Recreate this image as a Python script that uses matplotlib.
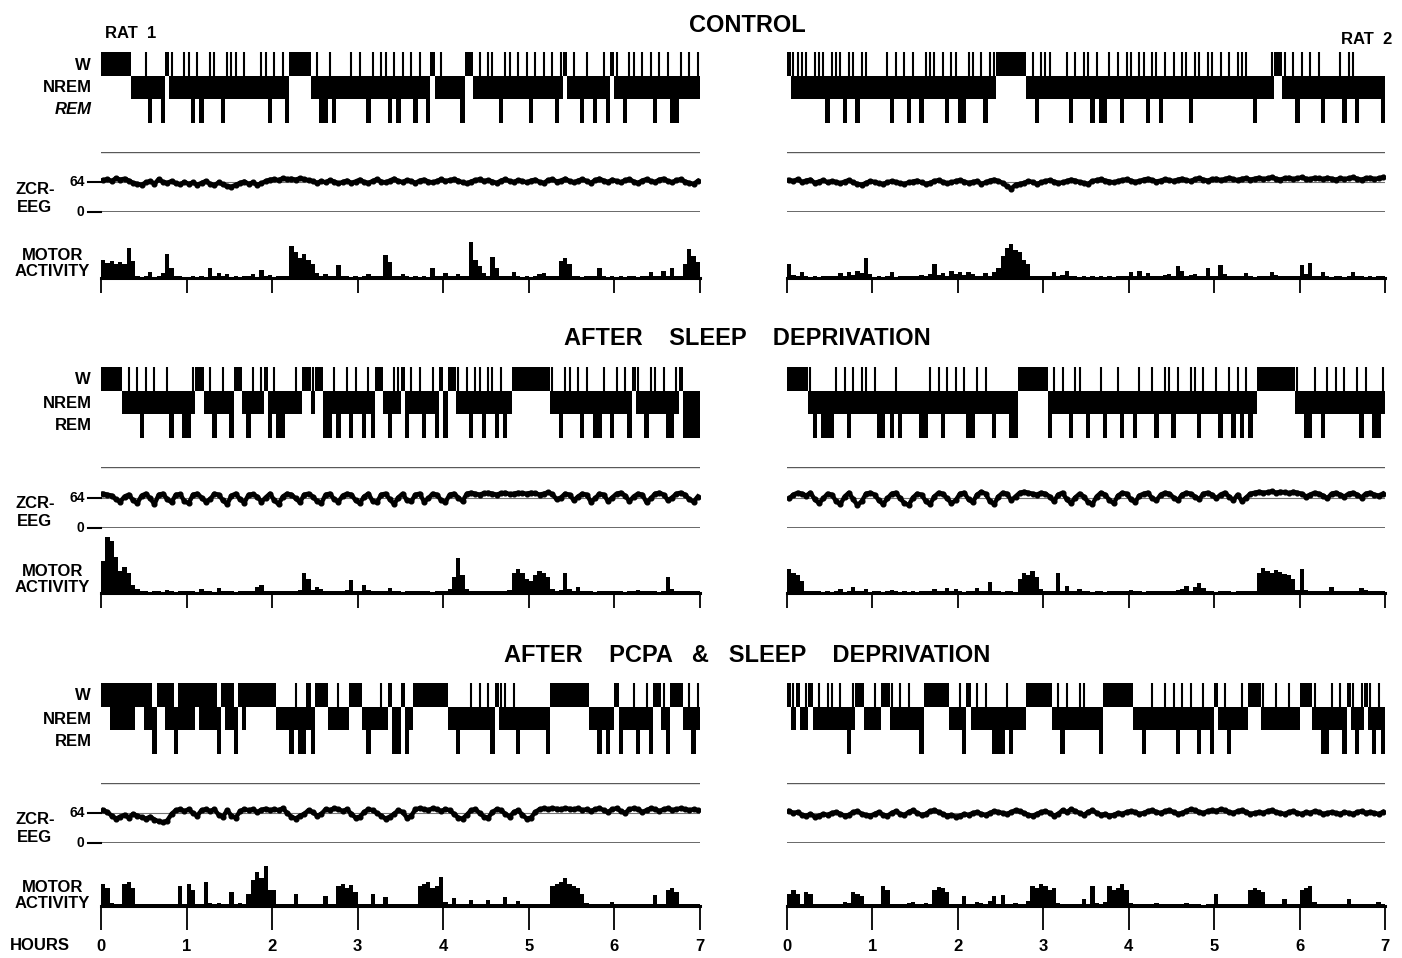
import matplotlib.pyplot as plt
import numpy as np

plt.rcParams['font.family'] = ['Liberation Sans', 'DejaVu Sans']
plt.rcParams['font.weight'] = 'bold'

W_PX, H_PX = 1402, 958
BIN_H = 0.05                       # one bin = 3 min
HOURS = [0, 1, 2, 3, 4, 5, 6, 7]
SECTION_TITLES = ["CONTROL", "AFTER    SLEEP    DEPRIVATION", "AFTER    PCPA   &   SLEEP    DEPRIVATION"]
RAT_LABELS = ["RAT  1", "RAT  2"]

# stages per 3-min bin: W wake, N nrem, a nrem + short arousal, R rem, F fragmented wake/nrem
HYP_C1 = ("WWWWWWWNNN" "aRNNRWaNNa" "aRaRNaaNRa" "aaNaNNNaaR" "aNaRWWWWWN" "aRRaRNNNaN" "aNRaNaaRaR"
          "aNaRaNRWNa" "NNNNRWWNaN" "aaNRaaNaNa" "RaNaNaRaWN" "aNRaNRNaRW" "aNRaaNaNaR" "aNaRRaNaNa")
HYP_C2 = ("WaaaaNaaaR" "aaaRaaRaaN" "NNNaRaNaRa" "NRaaaNaRaa" "RRaaNaRaaW" "WWWWWWNaRa" "aaNNNaRaNa"
          "aRaRRaNaRa" "aNaaRaaRaN" "aNaaRaaNaa" "NaNaNaaaNR" "NNNaWWaNaR" "aNaNaRNNNa" "RaaRNNNNNR")
HYP_S1 = ("WWWWWNaNaR" "aNaNNaRNNR" "RaWWNaRNaN" "RWWNRaNaWR" "aRRNNaNWWa" "WWRRaRNaRa" "NRaRWWNRaa"
          "WRaNaRNaRW" "RWWaNaRaaR" "aaRaRNWWWW" "WWWWWaNRaa" "NaRaNRRaNR" "aNaRWaNRaa" "NaRRaWRRRR")
HYP_S2 = ("WWWWWaRNRR" "RaNaRaNaaN" "aRRNRaRNNN" "NRRaNaRaNa" "NaRRaNaNRN" "NNRRWWWWWW" "WRaNaNRaaN"
          "RNNaRNNaRN" "NRaNNaRNaa" "RaNNaaRaNN" "aRNaRaRaRN" "WWWWWWWWWa" "NRRaNRaNaN" "aNNaRaNRRa")
HYP_P1 = ("WWFFFFFFWW" "FFRWWFFRFF" "FFWFFFFRWF" "FRWFWWWWWW" "WNNNRaRRFR" "WWWNNaNNWW" "WNRNNaNWRR"
          "WRNWWWWWWW" "WNNRNNaNaN" "aRWaaNaRNN" "NNNNRWWWWW" "WWWWNNRNRN" "WRNNaRNaRW" "WaRWWWNaRa")
HYP_P2 = ("WaWNaWNaNa" "aNaNRaWWNN" "aNWWaNaNaN" "NRWWWWWWNN" "aRWNaNaNRR" "RaRNNNWWWW" "WWNaRaNNaa"
          "NNNRWWWWWW" "WNNRNaNNaN" "aRaNaNRaNR" "WNaRNNaNWW" "WaNNaNNaNN" "WWWaNRRaNa" "RWaRaWaRaR")

# zero-crossing rate of the EEG, per 3-min bin
EEG_C1 = [68, 70, 66, 72, 69, 71, 67, 62, 60, 58, 63, 66, 60, 70, 64, 62, 66, 61, 59, 64,
          60, 63, 58, 62, 66, 60, 57, 63, 59, 55, 54, 58, 62, 65, 60, 63, 58, 61, 66, 69,
          70, 68, 72, 70, 71, 69, 72, 70, 68, 66, 62, 66, 63, 68, 65, 61, 64, 67, 62, 65,
          69, 64, 62, 66, 70, 65, 63, 67, 71, 66, 64, 68, 66, 62, 67, 69, 65, 63, 66, 70,
          66, 68, 70, 67, 63, 61, 65, 68, 70, 66, 68, 65, 62, 67, 70, 66, 64, 68, 66, 63,
          67, 69, 64, 62, 68, 70, 65, 67, 71, 66, 63, 67, 70, 66, 62, 68, 71, 67, 64, 69,
          66, 63, 68, 70, 65, 62, 67, 70, 66, 64, 69, 71, 66, 63, 68, 70, 65, 62, 60, 66]
EEG_C2 = [68, 66, 70, 64, 67, 69, 62, 65, 68, 63, 66, 64, 61, 65, 68, 63, 60, 58, 62, 66,
          64, 61, 60, 63, 66, 64, 61, 60, 63, 65, 67, 63, 60, 62, 66, 68, 64, 61, 63, 66,
          68, 65, 62, 64, 66, 60, 63, 67, 69, 66, 62, 55, 50, 58, 60, 62, 66, 64, 60, 63,
          66, 68, 65, 62, 63, 66, 69, 67, 64, 62, 60, 66, 68, 70, 67, 65, 63, 66, 68, 70,
          67, 64, 66, 69, 71, 68, 65, 67, 70, 68, 66, 69, 71, 68, 66, 70, 72, 69, 67, 70,
          71, 68, 70, 73, 70, 68, 71, 72, 69, 71, 73, 70, 72, 74, 71, 69, 72, 73, 70, 72,
          74, 71, 70, 73, 72, 70, 73, 71, 69, 72, 70, 72, 74, 71, 69, 72, 73, 70, 72, 74]
EEG_S1 = [72, 70, 68, 60, 55, 66, 70, 58, 52, 68, 72, 62, 50, 70, 72, 60, 54, 70, 71, 56,
          52, 70, 72, 64, 55, 60, 72, 70, 58, 50, 68, 72, 60, 53, 70, 71, 66, 55, 64, 72,
          58, 50, 66, 72, 70, 62, 54, 70, 72, 66, 56, 52, 70, 72, 60, 55, 68, 72, 70, 58,
          52, 66, 72, 56, 54, 70, 72, 60, 50, 64, 72, 58, 56, 70, 72, 55, 62, 72, 70, 58,
          54, 70, 72, 64, 56, 72, 74, 72, 70, 73, 74, 72, 70, 73, 74, 71, 72, 74, 73, 72,
          74, 73, 70, 72, 75, 71, 60, 64, 72, 70, 58, 66, 72, 70, 55, 62, 72, 70, 56, 64,
          72, 74, 68, 56, 66, 72, 70, 54, 62, 72, 74, 70, 58, 64, 72, 74, 70, 60, 55, 66]
EEG_S2 = [62, 70, 74, 72, 68, 74, 60, 52, 62, 72, 70, 56, 50, 66, 74, 60, 48, 56, 72, 74,
          70, 58, 50, 62, 72, 74, 62, 52, 48, 64, 72, 70, 56, 50, 66, 74, 72, 62, 52, 58,
          72, 74, 60, 54, 70, 76, 72, 56, 50, 66, 74, 72, 58, 66, 74, 76, 74, 72, 70, 74,
          72, 66, 56, 70, 74, 60, 52, 64, 72, 66, 54, 50, 66, 74, 70, 58, 52, 68, 74, 72,
          60, 54, 68, 72, 74, 62, 58, 70, 74, 72, 64, 58, 70, 74, 72, 66, 60, 72, 74, 70,
          62, 70, 74, 66, 58, 70, 56, 64, 72, 74, 76, 74, 75, 77, 74, 76, 75, 73, 76, 74,
          72, 66, 70, 74, 72, 68, 62, 72, 74, 70, 66, 72, 74, 70, 64, 72, 74, 70, 68, 72]
EEG_P1 = [70, 66, 58, 52, 56, 60, 54, 62, 58, 55, 52, 56, 50, 46, 44, 48, 62, 70, 72, 68,
          72, 64, 58, 70, 72, 68, 72, 60, 56, 70, 58, 54, 68, 72, 70, 72, 66, 71, 73, 70,
          72, 70, 74, 64, 56, 52, 58, 62, 70, 66, 58, 62, 72, 70, 74, 72, 68, 72, 62, 54,
          56, 66, 72, 70, 64, 58, 52, 56, 62, 70, 66, 54, 58, 72, 74, 72, 70, 74, 72, 68,
          72, 70, 62, 54, 52, 60, 70, 72, 64, 56, 54, 66, 72, 70, 62, 56, 66, 70, 60, 52,
          54, 66, 72, 74, 72, 74, 73, 72, 74, 73, 72, 74, 70, 72, 68, 72, 74, 70, 66, 72,
          74, 68, 64, 72, 74, 72, 66, 70, 74, 72, 68, 72, 74, 70, 72, 74, 72, 70, 72, 70]
EEG_P2 = [68, 64, 66, 60, 58, 62, 56, 58, 62, 60, 64, 66, 62, 58, 60, 66, 68, 62, 60, 58,
          62, 66, 60, 58, 64, 68, 62, 60, 66, 70, 64, 60, 62, 68, 70, 66, 62, 58, 60, 56,
          58, 62, 60, 64, 66, 62, 60, 64, 68, 66, 64, 62, 66, 70, 68, 64, 60, 58, 62, 66,
          68, 64, 58, 62, 70, 66, 72, 68, 64, 60, 66, 70, 64, 60, 62, 58, 60, 64, 62, 66,
          68, 66, 62, 64, 68, 70, 66, 64, 68, 70, 66, 62, 64, 68, 72, 70, 66, 64, 68, 70,
          68, 72, 70, 66, 64, 68, 70, 66, 62, 64, 66, 64, 68, 70, 66, 64, 62, 66, 68, 64,
          62, 66, 64, 68, 66, 62, 64, 66, 64, 62, 66, 64, 62, 66, 68, 64, 66, 64, 62, 66]

# motor activity counts, per 3-min bin
MOT_C1 = [4.5, 3.8, 4.2, 3.5, 4.0, 3.6, 7.5, 4.2, 0.4, 0.3, 0.4, 1.4, 0.3, 0.4, 1.2, 6.0, 2.5, 0.5, 0.4, 0.3,
          0.3, 0.4, 0.3, 0.4, 0.3, 2.6, 0.5, 1.2, 0.4, 1.0, 0.3, 0.4, 0.3, 0.4, 0.4, 1.0, 0.3, 2.0, 0.4, 0.8,
          0.3, 0.4, 0.5, 0.6, 8.0, 6.5, 5.0, 6.0, 4.5, 3.5, 1.2, 0.6, 1.0, 0.4, 0.5, 3.3, 0.4, 0.5, 0.3, 0.4,
          0.3, 0.4, 0.9, 0.5, 0.4, 0.4, 5.7, 4.0, 0.6, 0.5, 0.9, 0.5, 0.3, 0.4, 0.3, 0.4, 0.3, 2.6, 0.4, 0.5,
          1.2, 0.4, 0.4, 1.0, 0.4, 0.5, 9.0, 4.5, 3.0, 1.2, 0.5, 5.2, 2.5, 0.4, 0.5, 0.4, 1.4, 0.4, 0.3, 0.4,
          0.3, 0.4, 1.0, 1.2, 0.4, 0.5, 0.6, 4.2, 5.0, 3.5, 0.5, 0.4, 0.3, 0.4, 0.5, 0.4, 2.6, 0.4, 0.3, 0.4,
          0.3, 0.4, 0.3, 0.5, 0.4, 0.3, 0.4, 0.5, 1.4, 0.4, 0.5, 1.8, 0.4, 2.5, 0.6, 0.5, 3.5, 7.2, 5.5, 4.0]
MOT_C2 = [3.5, 0.8, 0.5, 1.4, 0.4, 0.3, 0.4, 0.3, 0.4, 0.5, 0.4, 0.5, 1.2, 0.6, 1.5, 0.8, 1.8, 1.2, 5.0, 1.0,
          0.3, 0.4, 0.3, 0.4, 1.4, 0.3, 0.5, 0.4, 0.6, 0.4, 0.5, 0.8, 0.4, 1.0, 3.5, 0.8, 1.2, 0.6, 1.8, 1.0,
          1.5, 0.8, 1.6, 1.0, 0.4, 0.6, 1.2, 0.5, 1.4, 2.5, 5.5, 7.5, 8.5, 7.0, 6.5, 4.5, 3.5, 0.6, 0.4, 0.5,
          0.4, 0.6, 1.5, 0.5, 0.8, 1.8, 0.5, 0.4, 0.3, 0.4, 0.3, 0.4, 0.3, 0.4, 0.3, 0.4, 0.3, 0.4, 0.5, 0.4,
          1.6, 0.5, 1.8, 0.6, 1.2, 0.5, 0.4, 0.6, 0.8, 1.0, 0.6, 3.0, 1.8, 0.5, 0.8, 1.0, 0.6, 0.5, 2.5, 0.4,
          0.6, 3.2, 1.0, 0.4, 0.5, 0.4, 0.6, 1.2, 0.4, 0.3, 0.4, 0.5, 0.4, 1.5, 0.8, 0.6, 0.5, 0.4, 0.6, 0.5,
          3.2, 1.0, 3.8, 0.6, 0.5, 1.5, 0.4, 0.3, 0.5, 0.4, 0.3, 0.4, 1.4, 0.5, 0.4, 0.3, 0.4, 0.3, 0.4, 0.6]
MOT_S1 = [8.0, 14.0, 13.0, 9.0, 5.5, 6.5, 5.0, 2.0, 1.0, 0.5, 0.4, 0.3, 0.4, 0.5, 0.3, 0.8, 0.4, 0.3, 0.4, 0.5,
          0.4, 0.5, 0.3, 1.0, 0.4, 0.5, 0.3, 1.2, 0.4, 0.5, 0.4, 0.3, 0.5, 0.4, 0.6, 0.4, 1.5, 2.0, 0.4, 0.5,
          0.6, 0.5, 0.4, 0.5, 0.4, 0.5, 0.8, 5.0, 3.5, 0.8, 1.5, 1.0, 0.5, 0.6, 0.4, 0.5, 0.6, 0.8, 3.3, 0.6,
          0.5, 2.0, 0.8, 0.6, 0.5, 0.4, 0.6, 1.2, 0.5, 0.4, 0.3, 0.4, 0.5, 0.4, 0.6, 0.5, 0.4, 0.3, 0.5, 0.6,
          0.5, 1.0, 4.0, 8.8, 4.5, 1.0, 0.6, 0.5, 0.6, 0.5, 0.6, 0.5, 0.4, 0.6, 0.5, 0.8, 5.0, 6.0, 5.0, 3.5,
          3.0, 4.5, 5.5, 5.0, 4.0, 1.0, 0.6, 0.8, 5.0, 1.0, 0.6, 1.5, 0.5, 0.4, 0.5, 0.3, 0.4, 0.5, 0.4, 0.5,
          0.4, 0.5, 0.3, 0.6, 0.4, 0.8, 0.5, 0.6, 0.4, 0.5, 0.3, 0.5, 4.0, 1.0, 0.5, 0.6, 0.4, 0.5, 0.4, 0.6]
MOT_S2 = [6.0, 5.0, 4.5, 3.0, 0.6, 0.5, 0.4, 0.5, 0.3, 0.4, 0.3, 0.4, 1.0, 0.3, 0.5, 1.5, 0.4, 0.5, 1.0, 0.3,
          0.4, 0.5, 0.3, 0.4, 0.8, 0.6, 0.3, 0.4, 0.3, 0.4, 0.3, 0.4, 0.5, 0.4, 1.0, 0.5, 0.4, 1.2, 0.5, 1.0,
          0.4, 0.3, 0.5, 0.4, 1.2, 0.5, 0.6, 2.8, 0.5, 0.4, 0.3, 0.5, 0.4, 0.3, 3.5, 5.0, 4.5, 5.5, 4.0, 1.0,
          0.5, 0.6, 0.4, 5.0, 0.6, 1.8, 0.5, 0.6, 1.0, 0.5, 0.4, 0.3, 0.5, 0.4, 0.3, 0.5, 0.4, 0.6, 0.4, 0.5,
          0.8, 0.5, 0.4, 0.3, 0.5, 0.4, 0.6, 0.5, 0.4, 0.5, 0.6, 0.8, 1.0, 1.8, 0.6, 1.5, 2.5, 1.2, 0.5, 0.4,
          0.3, 0.4, 0.5, 0.4, 0.3, 0.5, 0.4, 0.6, 0.5, 0.4, 5.0, 6.3, 5.5, 5.0, 5.8, 5.2, 4.8, 4.5, 3.5, 0.8,
          6.0, 0.8, 0.6, 0.5, 0.4, 0.6, 0.4, 1.5, 0.5, 0.4, 0.5, 0.4, 0.6, 0.5, 1.2, 0.8, 0.6, 0.5, 0.6, 0.4]
MOT_P1 = [5.5, 4.5, 0.8, 0.6, 0.5, 5.5, 6.0, 4.5, 0.6, 0.4, 0.5, 0.4, 0.6, 0.5, 0.4, 0.5, 0.6, 0.4, 5.0, 0.5,
          5.5, 4.0, 0.6, 0.5, 6.0, 0.8, 0.6, 0.7, 0.5, 0.6, 3.5, 0.6, 0.8, 0.5, 3.0, 6.5, 8.5, 7.0, 10.0, 4.0,
          4.0, 0.6, 0.5, 0.4, 0.5, 3.0, 0.6, 0.5, 0.4, 0.5, 0.6, 0.5, 2.5, 0.4, 0.6, 5.0, 5.5, 4.5, 5.2, 3.5,
          0.5, 0.6, 0.4, 3.0, 0.5, 0.4, 2.3, 0.5, 0.4, 0.5, 0.4, 0.5, 0.6, 0.5, 5.0, 5.5, 6.0, 4.5, 5.0, 7.3,
          1.0, 0.6, 2.0, 0.5, 0.6, 0.4, 1.6, 0.5, 0.4, 0.6, 1.6, 0.5, 0.4, 0.6, 2.3, 0.5, 0.6, 1.2, 0.5, 0.4,
          0.5, 0.4, 0.6, 0.5, 0.6, 5.0, 5.5, 6.0, 7.0, 5.5, 5.0, 4.5, 3.0, 0.8, 0.6, 0.5, 0.6, 0.5, 0.4, 1.0,
          0.5, 0.4, 0.6, 0.5, 0.4, 0.6, 0.5, 0.4, 0.6, 2.8, 0.5, 0.6, 4.0, 4.5, 3.5, 0.6, 0.5, 0.4, 0.6, 0.5]
MOT_P2 = [3.0, 4.0, 3.0, 0.5, 3.5, 3.0, 0.6, 0.5, 0.4, 0.5, 0.4, 0.6, 0.5, 1.0, 0.8, 3.5, 3.0, 2.5, 0.5, 0.6,
          0.5, 0.4, 5.0, 4.0, 0.6, 0.5, 0.6, 0.4, 0.8, 1.0, 0.6, 0.5, 0.8, 0.6, 4.0, 4.8, 4.5, 3.5, 0.6, 0.5,
          0.6, 2.5, 0.5, 0.6, 1.0, 0.8, 0.6, 1.2, 2.5, 0.6, 2.8, 0.5, 0.6, 0.8, 0.6, 0.5, 1.2, 5.0, 4.5, 5.5,
          5.0, 4.0, 4.5, 0.8, 0.5, 0.6, 0.4, 0.5, 0.6, 1.8, 0.5, 5.0, 0.8, 0.6, 1.0, 5.0, 4.0, 4.5, 5.5, 4.0,
          0.8, 0.6, 0.5, 0.6, 0.5, 0.4, 0.8, 0.5, 0.6, 0.5, 0.4, 0.6, 0.5, 0.8, 0.5, 0.4, 0.6, 0.3, 0.5, 0.4,
          3.0, 0.5, 0.4, 0.6, 0.5, 0.4, 0.5, 0.6, 4.0, 4.5, 4.0, 3.5, 0.6, 0.5, 0.4, 0.5, 1.8, 0.5, 0.4, 0.5,
          4.0, 4.5, 5.0, 1.0, 0.6, 0.5, 0.4, 0.6, 0.5, 0.4, 0.5, 1.8, 0.5, 0.4, 0.6, 0.5, 0.4, 0.5, 1.0, 0.5]

panels = [[(HYP_C1, EEG_C1, MOT_C1), (HYP_C2, EEG_C2, MOT_C2)],
          [(HYP_S1, EEG_S1, MOT_S1), (HYP_S2, EEG_S2, MOT_S2)],
          [(HYP_P1, EEG_P1, MOT_P1), (HYP_P2, EEG_P2, MOT_P2)]]

# layout in pixels (from the top of the page)
COL_X = [(101, 700), (787, 1385)]
HYP_TOP = [52, 367, 683]
EEG_TOP = [152, 467, 783]
EEG_BOT = [212, 528, 843]
MOT_BASE = [278, 593, 906]
TITLE_Y = [25, 338, 655]
OFF = [0, 315, 631]


def add_ax(fig, x0, x1, ytop, ybot):
    return fig.add_axes([x0 / W_PX, 1 - ybot / H_PX, (x1 - x0) / W_PX, (ybot - ytop) / H_PX])


def runs(mask):
    out = []
    i = 0
    while i < len(mask):
        if mask[i]:
            j = i
            while j < len(mask) and mask[j]:
                j += 1
            out.append((i * BIN_H, (j - i) * BIN_H))
            i = j
        else:
            i += 1
    return out


def draw_hyp(ax, stages):
    s = np.array(list(stages))
    ax.broken_barh(runs(np.isin(s, ['W', 'F'])), (2, 1), facecolors='k', lw=0)
    ax.broken_barh(runs(np.isin(s, ['N', 'a', 'F'])), (1, 1), facecolors='k', lw=0)
    ax.broken_barh(runs(s == 'R'), (0, 2), facecolors='k', lw=0)
    t = (np.where(s == 'a')[0] + 0.5) * BIN_H
    ax.vlines(t, 1, 3, color='k', lw=1.5)
    ax.set_xlim(0, 7)
    ax.set_ylim(0, 3)
    ax.axis('off')


def fig_text(x, y, s, **kw):
    fig.text(x / W_PX, 1 - y / H_PX, s, **kw)


fig = plt.figure(figsize=(W_PX / 100, H_PX / 100), dpi=100)

for k in range(3):
    for c in range(2):
        hyp, eeg, mot = panels[k][c]
        x0, x1 = COL_X[c]

        # hypnogram
        ax = add_ax(fig, x0, x1, HYP_TOP[k], HYP_TOP[k] + 71)
        draw_hyp(ax, hyp)

        # ZCR-EEG
        ax = add_ax(fig, x0, x1, EEG_TOP[k], EEG_BOT[k])
        t = (np.arange(len(eeg)) + 0.5) * BIN_H
        ax.axhline(128, color='0.35', lw=1.0)
        ax.axhline(64, color='0.45', lw=0.8)
        ax.axhline(0, color='0.25', lw=1.1)
        ax.plot(t, eeg, color='k', lw=3.2, marker='o', ms=3.4)
        ax.set_xlim(0, 7)
        ax.set_ylim(0, 128)
        ax.axis('off')
        if c == 0:
            for v, lab in [(64, '64'), (0, '0')]:
                ax.plot([-0.15, 0], [v, v], color='k', lw=1.5, clip_on=False)
                ax.text(-0.19, v, lab, ha='right', va='center', fontsize=10)

        # motor activity
        ax = add_ax(fig, x0, x1, MOT_BASE[k] - 60, MOT_BASE[k])
        edges = np.arange(len(mot) + 1) * BIN_H
        ax.fill_between(edges, np.append(mot, mot[-1]), step='post', color='k', lw=0)
        ax.set_xlim(0, 7)
        ax.set_ylim(0, 15)
        for side in ['top', 'left', 'right']:
            ax.spines[side].set_visible(False)
        ax.spines['bottom'].set_linewidth(2.2)
        ax.set_yticks([])
        ax.set_xticks(HOURS)
        ax.tick_params(axis='x', direction='out', width=1.3, length=17 if k == 2 else 10.5, pad=7)
        if k == 2:
            ax.set_xticklabels([str(h) for h in HOURS], fontsize=12, fontweight='bold')
        else:
            ax.set_xticklabels([])

    # row labels
    o = OFF[k]
    fig_text(91, 65 + o, 'W', ha='right', va='center', fontsize=12)
    fig_text(92, 88 + o, 'NREM', ha='right', va='center', fontsize=12)
    fig_text(92, 110 + o, 'REM', ha='right', va='center', fontsize=12,
             fontstyle='italic' if k == 0 else 'normal')
    fig_text(15, 189 + o, 'ZCR-', ha='left', va='center', fontsize=12)
    fig_text(17, 207 + o, 'EEG', ha='left', va='center', fontsize=12)
    fig_text(53, 256 + o, 'MOTOR', ha='center', va='center', fontsize=12)
    fig_text(52, 272 + o, 'ACTIVITY', ha='center', va='center', fontsize=12)
    fig_text(747, TITLE_Y[k], SECTION_TITLES[k], ha='center', va='center', fontsize=17)

fig_text(105, 33, RAT_LABELS[0], ha='left', va='center', fontsize=12)
fig_text(1392, 40, RAT_LABELS[1], ha='right', va='center', fontsize=12)
fig_text(10, 945, 'HOURS', ha='left', va='center', fontsize=12)

fig.savefig('out.png', dpi=100, facecolor='white')
